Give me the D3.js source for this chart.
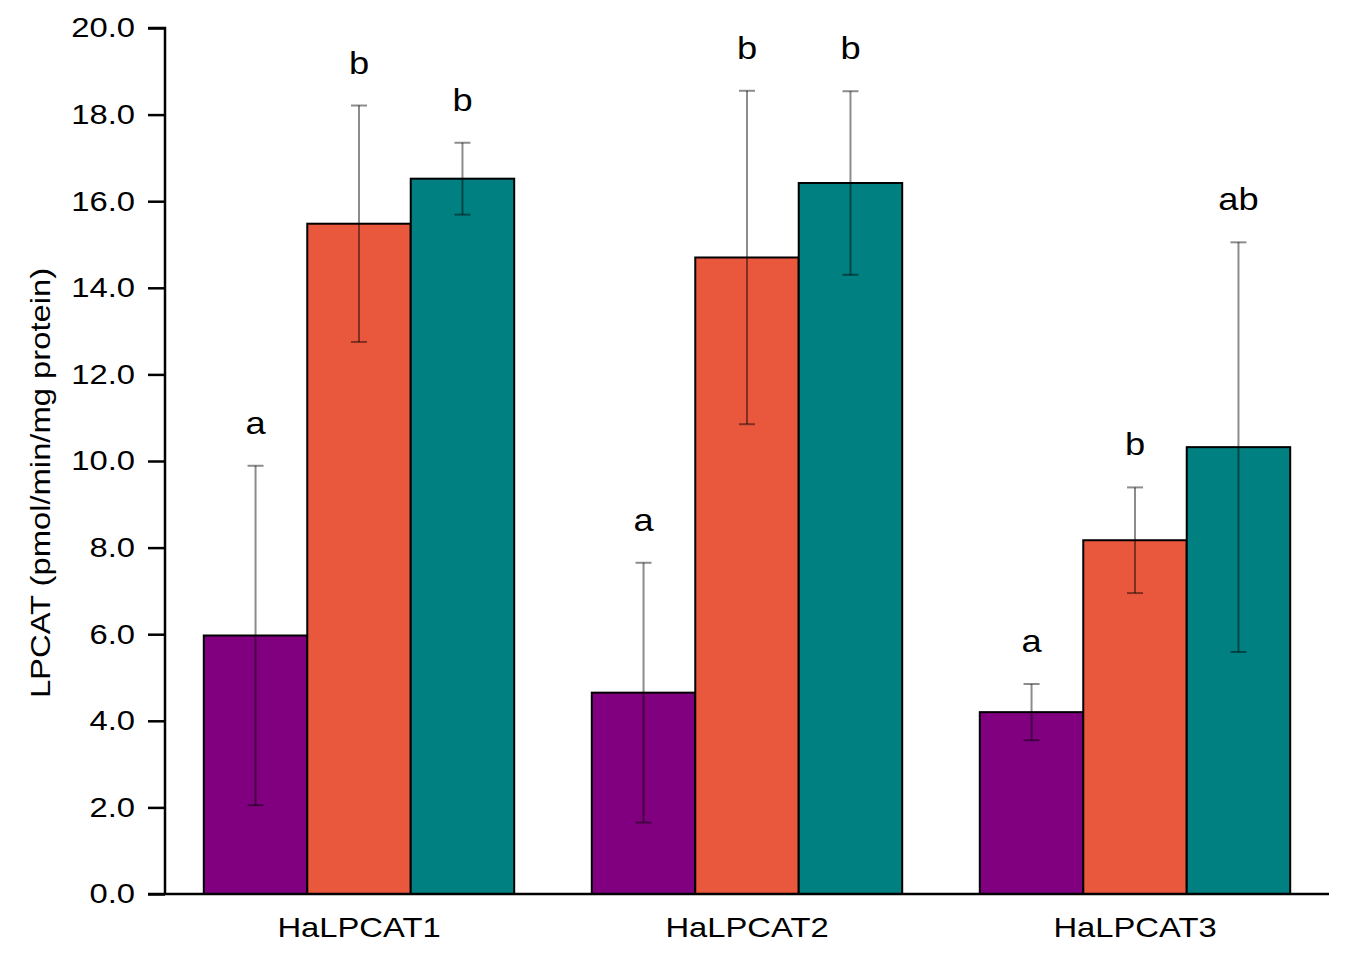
<!DOCTYPE html>
<html lang="en">
<head>
<meta charset="UTF-8">
<title>LPCAT</title>
<script src="https://cdn.jsdelivr.net/npm/d3@7"></script>
<style>
  * { margin: 0; padding: 0; }
  body { background: #fff; }
  text { font-family: "Liberation Sans", Arial, sans-serif; fill: #000; }
</style>
</head>
<body>
<script>
  const width = 1350
  const height = 957

  // data
  const categories = ['HaLPCAT1', 'HaLPCAT2', 'HaLPCAT3']
  const series = ['s1', 's2', 's3']
  const colors = ['#800080', '#E9573D', '#008080']
  const means = [
    [5.97, 15.48, 16.52],
    [4.65, 14.70, 16.42],
    [4.20, 8.17, 10.32]
  ]
  const errors = [
    [3.92, 2.73, 0.83],
    [3.00, 3.85, 2.12],
    [0.65, 1.22, 4.73]
  ]
  const letters = [
    ['a', 'b', 'b'],
    ['a', 'b', 'b'],
    ['a', 'b', 'ab']
  ]
  const yTicks = [0, 2, 4, 6, 8, 10, 12, 14, 16, 18, 20]

  const margin = { left: 165, right: 21, top: 28, bottom: 63 }
  // the original text is drawn a bit wider than Arial
  const sx = 1.17

  const svg = d3.select('body').append('svg')
    .attr('width', width)
    .attr('height', height)

  const x0 = d3.scaleBand()
    .domain(categories)
    .range([margin.left, width - margin.right])
    .paddingInner(0.2)
    .paddingOuter(0.1)

  const x1 = d3.scaleBand()
    .domain(series)
    .range([0, x0.bandwidth()])

  const y = d3.scaleLinear()
    .domain([0, 20])
    .range([height - margin.bottom, margin.top])

  // move x/y into a transform so the text can be widened in place
  function stretch(sel) {
    sel.each(function () {
      const t = d3.select(this)
      const tx = +t.attr('x') || 0
      const ty = +t.attr('y') || 0
      t.attr('x', 0).attr('y', 0)
        .attr('transform', 'translate(' + tx + ',' + ty + ') scale(' + sx + ',1)')
    })
  }

  // flatten rows for drawing
  const rows = []
  categories.forEach((c, i) => {
    series.forEach((s, j) => {
      rows.push({ cat: c, s: s, j: j, v: means[i][j], e: errors[i][j], l: letters[i][j] })
    })
  })

  svg.selectAll('.bar')
    .data(rows)
    .enter()
    .append('rect')
    .attr('class', 'bar')
    .attr('x', d => x0(d.cat) + x1(d.s))
    .attr('y', d => y(d.v))
    .attr('width', x1.bandwidth())
    .attr('height', d => y(0) - y(d.v))
    .attr('fill', d => colors[d.j])
    .attr('stroke', '#000')
    .attr('stroke-width', 2)

  // error bars
  const cap = 8
  const eb = svg.selectAll('.err')
    .data(rows)
    .enter()
    .append('g')
    .attr('class', 'err')
    .attr('stroke', '#000')
    .attr('stroke-opacity', 0.45)
    .attr('stroke-width', 2)

  const cx = d => x0(d.cat) + x1(d.s) + x1.bandwidth() / 2
  eb.append('line')
    .attr('x1', cx).attr('x2', cx)
    .attr('y1', d => y(d.v + d.e)).attr('y2', d => y(d.v - d.e))
  eb.append('line')
    .attr('x1', d => cx(d) - cap).attr('x2', d => cx(d) + cap)
    .attr('y1', d => y(d.v + d.e)).attr('y2', d => y(d.v + d.e))
  eb.append('line')
    .attr('x1', d => cx(d) - cap).attr('x2', d => cx(d) + cap)
    .attr('y1', d => y(d.v - d.e)).attr('y2', d => y(d.v - d.e))

  // significance letters
  svg.selectAll('.letter')
    .data(rows)
    .enter()
    .append('text')
    .attr('class', 'letter')
    .attr('x', cx)
    .attr('y', d => y(d.v + d.e) - 32)
    .attr('text-anchor', 'middle')
    .attr('font-size', 31)
    .text(d => d.l)
    .call(stretch)

  // axes
  const yAxis = d3.axisLeft(y)
    .tickValues(yTicks)
    .tickFormat(d3.format('.1f'))
    .tickSize(17)
    .tickPadding(13)

  const gy = svg.append('g')
    .attr('transform', 'translate(' + margin.left + ',0)')
    .call(yAxis)
  gy.select('.domain').attr('stroke-width', 2.5).attr('d', 'M-17,' + y(20) + 'H0V' + y(0))
  gy.selectAll('.tick line').attr('stroke-width', 2.5)
  gy.selectAll('.tick text').attr('font-size', 28).call(stretch)

  const xAxis = d3.axisBottom(x0).tickSize(0).tickPadding(23)
  const gx = svg.append('g')
    .attr('transform', 'translate(0,' + y(0) + ')')
    .call(xAxis)
  gx.select('.domain').attr('stroke-width', 2.5)
    .attr('d', 'M' + (margin.left - 17) + ',0H' + (width - margin.right))
  gx.selectAll('.tick text').attr('font-size', 28).call(stretch)

  svg.append('text')
    .attr('transform', 'translate(50,' + ((y(0) + y(20)) / 2 + 22) + ') rotate(-90) scale(' + sx + ',1)')
    .attr('text-anchor', 'middle')
    .attr('font-size', 28)
    .text('LPCAT (pmol/min/mg protein)')
</script>
</body>
</html>
